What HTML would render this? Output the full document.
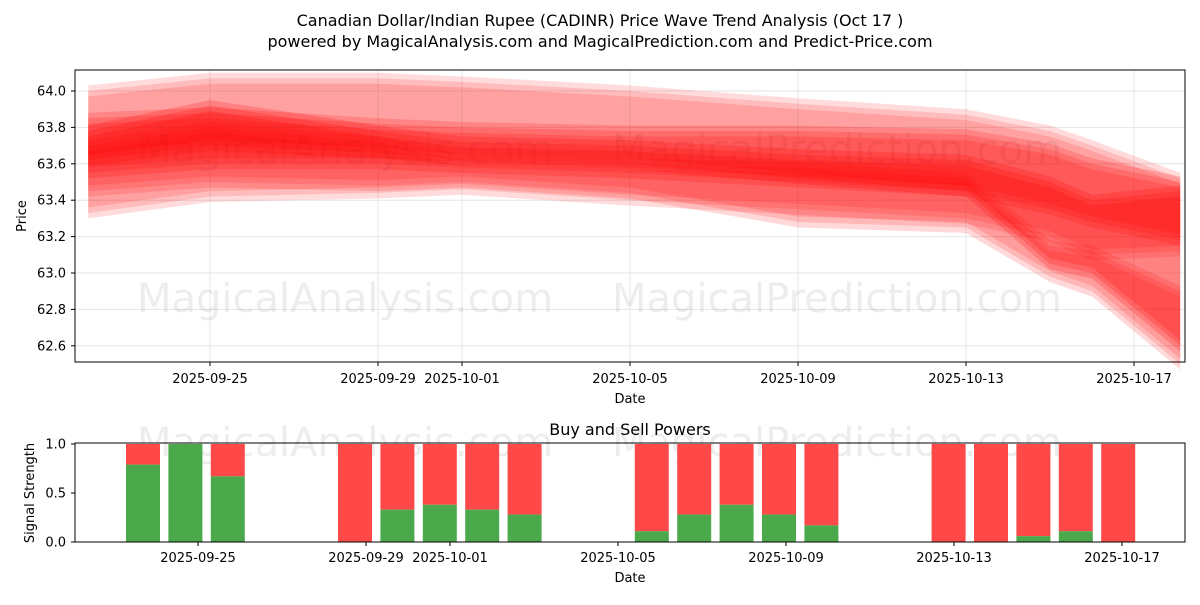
<!DOCTYPE html>
<html><head><meta charset="utf-8"><style>
body{margin:0;background:#fff;font-family:"Liberation Sans","DejaVu Sans",sans-serif}
</style></head><body>
<svg id="c" width="1200" height="600" xmlns="http://www.w3.org/2000/svg" font-family="DejaVu Sans, Liberation Sans, sans-serif">
<text x="600" y="26" text-anchor="middle" font-size="16">Canadian Dollar/Indian Rupee (CADINR) Price Wave Trend Analysis (Oct 17 )</text>
<text x="600" y="47" text-anchor="middle" font-size="16">powered by MagicalAnalysis.com and MagicalPrediction.com and Predict-Price.com</text>
<g id="top"></g><g id="bot"></g>
</svg>
<script>
// ---- data ----
const bandDays=[-2.9,0,4,6,10,14,18,20,21,23.1]; // days from 2025-09-25
const bandUpper=[[64.0,64.07,64.07,64.05,64.0,63.93,63.87,63.78,63.7,63.52],[63.85,63.88,63.82,63.8,63.78,63.78,63.76,63.68,63.6,63.5],[63.78,63.92,63.78,63.72,63.7,63.65,63.62,63.5,63.4,63.45],[63.7,63.8,63.72,63.62,63.6,63.58,63.52,63.15,63.12,62.9]];
const bandLower=[[63.33,63.42,63.44,63.46,63.4,63.35,63.3,63.2,63.1,63.12],[63.55,63.6,63.6,63.58,63.55,63.5,63.45,63.35,63.28,63.18],[63.62,63.7,63.66,63.62,63.6,63.52,63.45,63.05,63.0,62.6],[63.45,63.5,63.48,63.5,63.44,63.28,63.25,62.98,62.9,62.5]];
const priceTicks=[64.0,63.8,63.6,63.4,63.2,63.0,62.8,62.6];
const tickDays=[0,4,6,10,14,18,22];
const tickLabels=['2025-09-25','2025-09-29','2025-10-01','2025-10-05','2025-10-09','2025-10-13','2025-10-17'];
const barDays=[-1,0,1,4,5,6,7,8,11,12,13,14,15,18,19,20,21,22];
const buyPower=[0.79,1.0,0.67,0.0,0.33,0.38,0.33,0.28,0.11,0.28,0.38,0.28,0.17,0.0,0.0,0.06,0.11,0.0];
const sigTicks=[0,0.5,1.0];
// ---- helpers ----
const NS='http://www.w3.org/2000/svg';
function mk(p,t,a){const e=document.createElementNS(NS,t);for(const k in a)e.setAttribute(k,a[k]);p.appendChild(e);return e;}
const xT=d=>210+d*42, yT=v=>91+(64.0-v)/0.2*36.4;
const xB=d=>198+d*42, yB=v=>542-v*98;
const xBar=d=>143+(d+1)*42.4;
const gTop=document.getElementById('top'), gBot=document.getElementById('bot');
for(const v of priceTicks){let g=mk(gTop,'line',{x1:75,x2:1185,y1:yT(v),y2:yT(v),stroke:'#e6e6e6'});


let t=mk(gTop,'text',{x:66,y:yT(v)+4.5,'text-anchor':'end','font-size':13});t.textContent=v.toFixed(1);


mk(gTop,'line',{x1:71,x2:75,y1:yT(v),y2:yT(v),stroke:'#000'});}
tickDays.forEach((d,i)=>{let g=mk(gTop,'line',{x1:xT(d),x2:xT(d),y1:70,y2:362,stroke:'#e6e6e6'});


mk(gTop,'line',{x1:xT(d),x2:xT(d),y1:362,y2:366,stroke:'#000'});
let t=mk(gTop,'text',{x:xT(d),y:383,'text-anchor':'middle','font-size':13});t.textContent=tickLabels[i];

});
[[345,163],[837,163],[345,312],[837,312],[345,456],[837,456]].forEach(p=>{let t=mk(gTop,'text',{x:p[0],y:p[1],'text-anchor':'middle','font-size':40,fill:'#000','fill-opacity':0.07});t.textContent=p[0]<600?'MagicalAnalysis.com':'MagicalPrediction.com';

});
const ops=[0.28,0.35,0.4,0.3];
bandUpper.forEach((u,b)=>{for(let s=0;s<3;s++){const off=(s-1)*0.03;
let pts=u.map((v,i)=>xT(bandDays[i])+','+yT(v+off)).concat(bandLower[b].map((v,i)=>xT(bandDays[i])+','+yT(v+off)).reverse());
let p=mk(gTop,'polygon',{points:pts.join(' '),fill:'#ff0000','fill-opacity':ops[b]*0.5});

}});
mk(gTop,'rect',{x:75,y:70,width:1110,height:292,fill:'none',stroke:'#000'});
let yl=mk(gTop,'text',{x:26,y:216,'text-anchor':'middle','font-size':13,transform:'rotate(-90 26 216)'});yl.textContent='Price';


let xl=mk(gTop,'text',{x:630,y:403,'text-anchor':'middle','font-size':13});xl.textContent='Date';


let bt=mk(gBot,'text',{x:630,y:435,'text-anchor':'middle','font-size':16});bt.textContent='Buy and Sell Powers';


barDays.forEach((d,i)=>{const x=xBar(d)-17;
let r=mk(gBot,'rect',{x:x,y:yB(1),width:34,height:yB(buyPower[i])-yB(1),fill:'#ff4848'});


let g=mk(gBot,'rect',{x:x,y:yB(buyPower[i]),width:34,height:yB(0)-yB(buyPower[i]),fill:'#4ba84b'});

});
for(const v of sigTicks){mk(gBot,'line',{x1:71,x2:75,y1:yB(v),y2:yB(v),stroke:'#000'});
let t=mk(gBot,'text',{x:66,y:yB(v)+4.5,'text-anchor':'end','font-size':13});t.textContent=v.toFixed(1);

}
tickDays.forEach((d,i)=>{mk(gBot,'line',{x1:xB(d),x2:xB(d),y1:542,y2:546,stroke:'#000'});
let t=mk(gBot,'text',{x:xB(d),y:562,'text-anchor':'middle','font-size':13});t.textContent=tickLabels[i];

});
mk(gBot,'rect',{x:75,y:443,width:1110,height:99,fill:'none',stroke:'#000'});
let sl=mk(gBot,'text',{x:34,y:493,'text-anchor':'middle','font-size':13,transform:'rotate(-90 34 493)'});sl.textContent='Signal Strength';


let dl=mk(gBot,'text',{x:630,y:582,'text-anchor':'middle','font-size':13});dl.textContent='Date';


</script>
</body></html>
